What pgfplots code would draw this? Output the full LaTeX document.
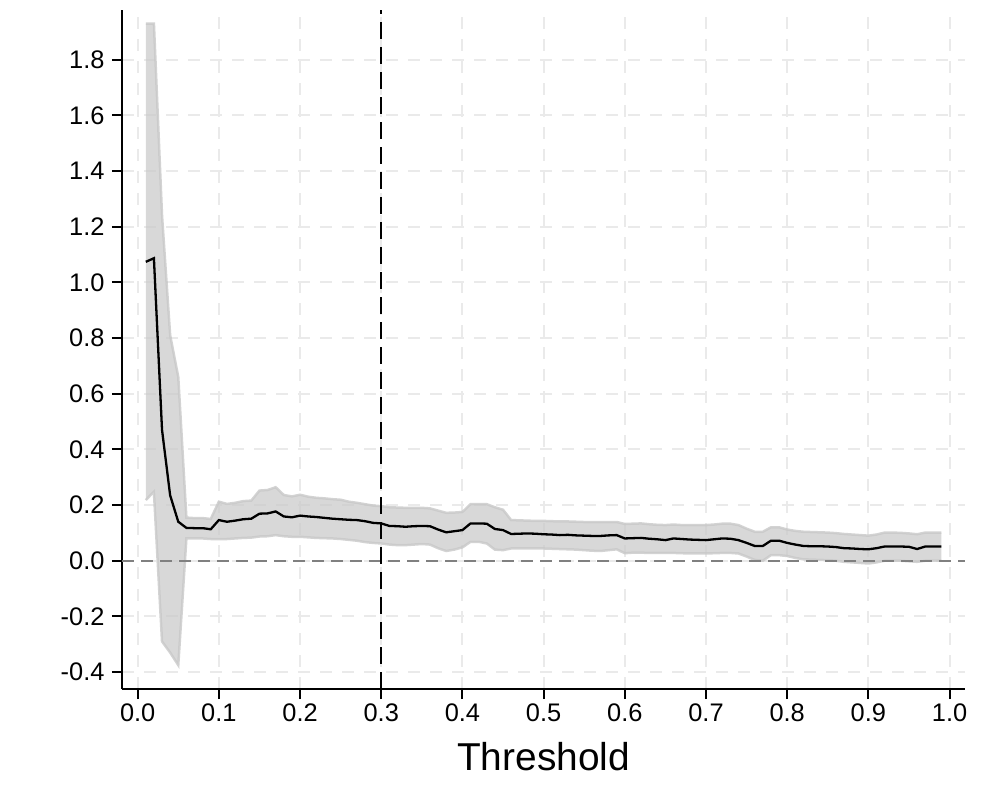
\documentclass[border=0pt]{standalone}
\usepackage{fontspec}
\setmainfont{Liberation Sans}
\usepackage{pgfplots}
\usepackage{pgfplotstable}
\pgfplotsset{compat=1.18}
\usepgfplotslibrary{fillbetween}
\definecolor{band}{RGB}{200,200,200}
\definecolor{gridc}{RGB}{234,234,234}
\definecolor{zeroc}{RGB}{128,128,128}

\pgfplotstableread{
x lo est hi
0.01 0.218 1.074 1.93
0.02 0.248 1.087 1.93
0.03 -0.29 0.47 1.24
0.04 -0.33 0.235 0.81
0.05 -0.375 0.14 0.66
0.06 0.08 0.118 0.155
0.07 0.08 0.117 0.153
0.08 0.08 0.117 0.153
0.09 0.078 0.113 0.150
0.10 0.078 0.146 0.212
0.11 0.078 0.140 0.204
0.12 0.080 0.144 0.208
0.13 0.082 0.149 0.214
0.14 0.083 0.151 0.216
0.15 0.087 0.169 0.252
0.16 0.088 0.170 0.254
0.17 0.092 0.177 0.264
0.18 0.088 0.159 0.236
0.19 0.086 0.156 0.231
0.20 0.086 0.162 0.237
0.21 0.084 0.159 0.230
0.22 0.082 0.157 0.226
0.23 0.081 0.154 0.224
0.24 0.080 0.151 0.221
0.25 0.078 0.149 0.219
0.26 0.075 0.147 0.212
0.27 0.072 0.146 0.208
0.28 0.067 0.142 0.203
0.29 0.064 0.136 0.198
0.30 0.062 0.134 0.196
0.31 0.058 0.125 0.192
0.32 0.056 0.124 0.191
0.33 0.056 0.122 0.190
0.34 0.058 0.124 0.190
0.35 0.060 0.125 0.190
0.36 0.058 0.124 0.188
0.37 0.045 0.112 0.180
0.38 0.035 0.102 0.172
0.39 0.040 0.106 0.173
0.40 0.048 0.110 0.175
0.41 0.068 0.134 0.203
0.42 0.068 0.134 0.203
0.43 0.062 0.133 0.203
0.44 0.040 0.114 0.192
0.45 0.038 0.110 0.183
0.46 0.044 0.096 0.146
0.47 0.044 0.097 0.145
0.48 0.044 0.098 0.144
0.49 0.044 0.097 0.143
0.50 0.044 0.095 0.143
0.51 0.043 0.094 0.142
0.52 0.042 0.092 0.141
0.53 0.041 0.093 0.141
0.54 0.040 0.091 0.140
0.55 0.038 0.090 0.139
0.56 0.036 0.089 0.139
0.57 0.035 0.089 0.139
0.58 0.038 0.091 0.139
0.59 0.041 0.092 0.139
0.60 0.027 0.080 0.132
0.61 0.029 0.081 0.133
0.62 0.029 0.082 0.134
0.63 0.028 0.079 0.131
0.64 0.028 0.077 0.129
0.65 0.028 0.074 0.128
0.66 0.028 0.080 0.130
0.67 0.027 0.078 0.128
0.68 0.026 0.076 0.128
0.69 0.026 0.075 0.128
0.70 0.026 0.074 0.128
0.71 0.027 0.077 0.130
0.72 0.028 0.080 0.133
0.73 0.028 0.079 0.133
0.74 0.026 0.074 0.128
0.75 0.015 0.064 0.115
0.76 0.003 0.053 0.104
0.77 0.000 0.053 0.104
0.78 0.020 0.072 0.120
0.79 0.020 0.072 0.120
0.80 0.017 0.064 0.112
0.81 0.010 0.058 0.107
0.82 0.005 0.053 0.104
0.83 0.004 0.052 0.103
0.84 0.003 0.052 0.102
0.85 0.002 0.051 0.101
0.86 0.000 0.049 0.099
0.87 -0.004 0.045 0.096
0.88 -0.006 0.044 0.094
0.89 -0.008 0.042 0.092
0.90 -0.010 0.041 0.090
0.91 -0.006 0.045 0.094
0.92 0.000 0.051 0.101
0.93 0.000 0.051 0.101
0.94 0.000 0.051 0.100
0.95 -0.002 0.050 0.098
0.96 -0.004 0.042 0.095
0.97 0.000 0.051 0.101
0.98 0.000 0.051 0.101
0.99 0.000 0.051 0.101
}\data

\begin{document}
\begin{tikzpicture}
\path (0bp,0bp) rectangle (997bp,797bp);
\begin{axis}[
  at={(122bp,108bp)}, anchor=south west,
  scale only axis, width=843bp, height=679bp,
  xmin=-0.0193, xmax=1.019, ymin=-0.461, ymax=1.979,
  axis x line*=bottom, axis y line*=left,
  axis line style={black, line width=2bp},
  xtick={0,0.1,0.2,0.3,0.4,0.5,0.6,0.7,0.8,0.9,1.0},
  xticklabels={0.0,0.1,0.2,0.3,0.4,0.5,0.6,0.7,0.8,0.9,1.0},
  ytick={-0.4,-0.2,0,0.2,0.4,0.6,0.8,1.0,1.2,1.4,1.6,1.8},
  yticklabels={-0.4,-0.2,0.0,0.2,0.4,0.6,0.8,1.0,1.2,1.4,1.6,1.8},
  tick align=outside, major tick length=10bp,
  tick style={black, line width=2bp},
  ticklabel style={font=\fontsize{25.5}{25.5}\selectfont},
  xticklabel style={yshift=-1bp},
  yticklabel style={xshift=-4bp},
  grid=major,
  grid style={gridc, line width=2bp, dash pattern=on 12bp off 10bp},
  xlabel={Threshold},
  xlabel style={font=\fontsize{39}{39}\selectfont, yshift=-14bp},
]
\addplot[name path=hi, band, line width=2.5bp, opacity=0.8] table[x=x,y=hi]{\data};
\addplot[name path=lo, band, line width=2.5bp, opacity=0.8] table[x=x,y=lo]{\data};
\addplot[zeroc, line width=2bp, dash pattern=on 12bp off 7bp] coordinates {(-0.0193,0) (1.019,0)};
\addplot[black, line width=2.2bp, dash pattern=on 17bp off 8bp] coordinates {(0.3,-0.461) (0.3,1.979)};
\addplot[band, fill opacity=0.7, draw=none] fill between[of=hi and lo];
\addplot[black, line width=2.3bp] table[x=x,y=est]{\data};
\end{axis}
\end{tikzpicture}
\end{document}
